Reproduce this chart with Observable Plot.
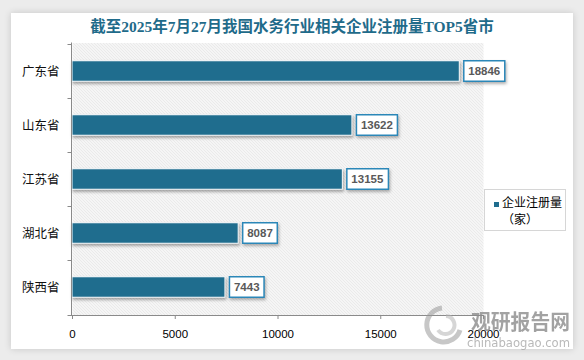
<!DOCTYPE html>
<html><head><meta charset="utf-8">
<script src="https://cdn.jsdelivr.net/npm/d3@7"></script>
<script src="https://cdn.jsdelivr.net/npm/@observablehq/plot@0.6"></script>
<style>
html,body{margin:0;padding:0;background:#ececec;width:584px;height:360px;overflow:hidden;color:#000}
#card{position:absolute;left:11px;top:13px;width:562px;height:336px;background:#fff;box-shadow:0 0 7px rgba(0,0,0,0.16)}
#title{position:absolute;left:0;top:17px;width:584px;text-align:center;font:bold 15.5px "Liberation Serif","Noto Sans CJK SC",serif;color:#1f6b8a;line-height:20px;white-space:nowrap}
#chart{position:absolute;left:0;top:0}
#legend{position:absolute;left:484px;top:189px;width:82px;height:42px;border:1px solid #d6d6d6;background:#fff;box-sizing:border-box;font:12px "Noto Sans CJK SC",sans-serif;color:#000}
#legend .sw{position:absolute;left:9px;top:12px;width:5px;height:5px;background:#1f6d8e}
#legend .l1{position:absolute;left:17px;top:4px;line-height:15px;white-space:nowrap}
#legend .l2{position:absolute;left:17px;top:21px;line-height:15px;white-space:nowrap}
#wm{position:absolute;left:420px;top:300px;width:156px;height:52px;pointer-events:none}
.bars rect{filter:drop-shadow(1px 2.5px 1.5px rgba(0,0,0,0.35))}
.vbox{filter:drop-shadow(1px 2px 1.5px rgba(0,0,0,0.3))}
</style>
</head><body>
<div id="card"></div>
<div id="chart"></div>
<div id="title"></div>
<div id="legend"><div class="sw"></div><div class="l1"></div><div class="l2"></div></div>
<svg id="wm" width="156" height="52">
  <g opacity="0.55" fill="none" stroke="#9a9a9a" stroke-width="5">
    <path d="M 22 8 A 17 17 0 1 0 40 30"/>
    <path d="M 26 16 A 9 9 0 1 1 18 30" stroke="#b5b5b5" stroke-width="4"/>
  </g>
  <text x="51" y="29" font-family="Noto Sans CJK SC" font-weight="bold" font-size="21" fill="#8c8c8c" opacity="0.8" textLength="99" lengthAdjust="spacingAndGlyphs">观研报告网</text>
  <text x="47" y="47" font-family="DejaVu Sans" font-size="13" fill="#a8a8a8" opacity="0.8" textLength="103" lengthAdjust="spacingAndGlyphs">chinabaogao.com</text>
</svg>
<script>
const titleText = "截至2025年7月27月我国水务行业相关企业注册量TOP5省市";
const provinces = ["广东省", "山东省", "江苏省", "湖北省", "陕西省"];
const values = [18846, 13622, 13155, 8087, 7443];
const xTicks = [0, 5000, 10000, 15000, 20000];
const legendLines = ["企业注册量", "（家）"];

document.getElementById("title").textContent = titleText;
document.querySelector("#legend .l1").textContent = legendLines[0];
document.querySelector("#legend .l2").textContent = legendLines[1];

const data = provinces.map((p, i) => ({province: p, value: values[i]}));

function axisLines(index, scales, vals, dims) {
  const x0 = dims.marginLeft, x1 = dims.width - dims.marginRight;
  const y0 = dims.marginTop, y1 = dims.height - dims.marginBottom;
  const g = d3.create("svg:g").attr("stroke", "#8a8a8a").attr("fill", "none");
  const starts = provinces.map(p => scales.y(p));
  const bounds = [...starts, y1];
  g.append("path").attr("d", `M${x0 - 0.5},${y0}V${y1 + 0.5}H${x1}`);
  g.append("path").attr("d", bounds.map(b => `M${x0 - 4.5},${Math.round(b) + 0.5}H${x0}`).join(""));
  return g.node();
}

const plot = Plot.plot({
  width: 584, height: 360,
  marginLeft: 72, marginRight: 101, marginTop: 42.5, marginBottom: 45,
  style: {background: "transparent", overflow: "visible"},
  x: {domain: [0, 20000], axis: null},
  y: {domain: provinces, padding: 0, axis: null},
  marks: [
    Plot.frame({fill: "#fff", stroke: null, className: "hatchframe"}),
    Plot.barX(data, {x: "value", y: "province", fill: "#1f6d8e", stroke: "#fff", strokeWidth: 1,
      insetTop: 16.75, insetBottom: 16.75, className: "bars"}),
    axisLines,
    Plot.axisX({ticks: xTicks, tickSize: 4, tickPadding: 10, stroke: "#8a8a8a", fill: "#000", label: null,
      fontSize: 11.5, fontFamily: "Liberation Sans", tickFormat: d => String(d)}),
    Plot.axisY({tickSize: 0, tickPadding: 13, fill: "#111", label: null, fontSize: 12.5, fontFamily: "Noto Sans CJK SC"}),
    Plot.text(data, {x: "value", y: "province", text: d => String(d.value), dx: 8.5, textAnchor: "start",
      fontWeight: "bold", fontSize: 11.5, fontFamily: "Liberation Sans", fill: "#595959", className: "vlabels"})
  ]
});
document.getElementById("chart").appendChild(plot);

// hatch pattern for the plotting area
const svg = d3.select(plot);
const defs = svg.insert("defs", ":first-child");
const pat = defs.append("pattern").attr("id", "hatch").attr("patternUnits", "userSpaceOnUse")
  .attr("width", 3).attr("height", 3);
pat.append("rect").attr("width", 3).attr("height", 3).attr("fill", "#fff");
pat.append("path").attr("d", "M-1,-1L4,4M-1,2L1,4M2,-1L4,1").attr("stroke", "#d0d0d0").attr("stroke-width", 0.9);
svg.selectAll(".hatchframe, .hatchframe rect").attr("fill", "url(#hatch)");

// boxes behind value labels (positions taken from rendered marks)
const svgBox = plot.getBoundingClientRect();
const barRects = svg.selectAll(".bars rect").nodes();
const labelGroup = svg.select(".vlabels").node();
const boxLayer = d3.select(labelGroup.parentNode).insert("g", () => labelGroup);
svg.selectAll(".vlabels text").each(function (d, i) {
  const tb = this.getBoundingClientRect();
  const bb = barRects[i].getBoundingClientRect();
  boxLayer.append("rect")
    .attr("class", "vbox")
    .attr("x", tb.left - svgBox.left - 4.5).attr("y", bb.top - svgBox.top)
    .attr("width", tb.width + 9).attr("height", bb.height)
    .attr("fill", "#fff").attr("stroke", "#2b87b8").attr("stroke-width", 1.5);
});
</script>
</body></html>
